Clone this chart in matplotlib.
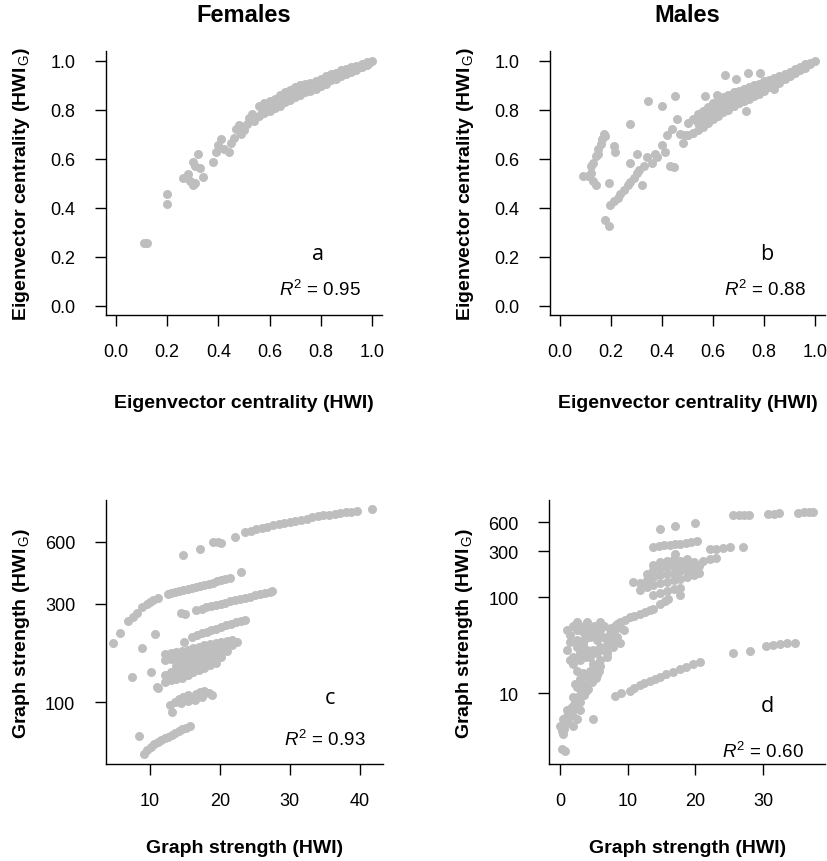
import numpy as np
import matplotlib
matplotlib.use("Agg")
import matplotlib.pyplot as plt

plt.rcParams['font.family'] = ['Liberation Sans', 'DejaVu Sans']
plt.rcParams['mathtext.fontset'] = 'custom'
plt.rcParams['mathtext.rm'] = 'Liberation Sans'
plt.rcParams['mathtext.it'] = 'Liberation Sans:italic'

# --- a: females, eigenvector centrality (HWI) vs (HWI_G)
fem_eig_x = [0.11, 0.12, 0.20, 0.20, 0.26, 0.28, 0.29, 0.30, 0.31, 0.30, 0.31, 0.32, 0.33, 0.34,
             0.38, 0.39, 0.40, 0.41, 0.42, 0.44, 0.45, 0.46, 0.47, 0.48, 0.49, 0.50, 0.51, 0.52, 0.53, 0.54,
             0.56, 0.56, 0.58, 0.58, 0.60, 0.60, 0.62, 0.62, 0.64, 0.64, 0.66, 0.66, 0.68, 0.68,
             0.70, 0.70, 0.72, 0.72, 0.74, 0.74, 0.76, 0.76, 0.78, 0.78, 0.80, 0.80, 0.82, 0.82,
             0.84, 0.84, 0.86, 0.86, 0.88, 0.88, 0.90, 0.90, 0.92, 0.92, 0.94, 0.94, 0.96, 0.96,
             0.98, 0.98, 1.00,
             0.57, 0.59, 0.61, 0.63, 0.65, 0.67, 0.69, 0.71, 0.73, 0.75, 0.77, 0.79, 0.81, 0.83,
             0.85, 0.87, 0.89, 0.91, 0.93, 0.95, 0.97, 0.99]
fem_eig_y = [0.255, 0.255, 0.455, 0.415, 0.52, 0.535, 0.51, 0.49, 0.50, 0.585, 0.57, 0.62, 0.56, 0.525,
             0.585, 0.625, 0.655, 0.68, 0.64, 0.625, 0.665, 0.685, 0.72, 0.735, 0.70, 0.715, 0.74, 0.765, 0.78, 0.755,
             0.815, 0.775, 0.825, 0.785, 0.835, 0.795, 0.845, 0.805, 0.86, 0.815, 0.87, 0.83, 0.88, 0.84,
             0.89, 0.85, 0.90, 0.86, 0.905, 0.87, 0.91, 0.875, 0.915, 0.885, 0.925, 0.895, 0.935, 0.905,
             0.945, 0.92, 0.95, 0.925, 0.96, 0.935, 0.965, 0.945, 0.972, 0.955, 0.978, 0.962, 0.987, 0.972,
             0.992, 0.983, 1.0,
             0.80, 0.805, 0.815, 0.825, 0.838, 0.85, 0.86, 0.87, 0.88, 0.888, 0.895, 0.905, 0.915, 0.925,
             0.935, 0.943, 0.952, 0.96, 0.967, 0.975, 0.982, 0.99]

# --- b: males, eigenvector centrality
male_eig_x = [0.09, 0.11, 0.12, 0.13, 0.14, 0.12, 0.13, 0.14, 0.15, 0.15, 0.16, 0.165, 0.17, 0.175,
              0.19, 0.21, 0.215, 0.175, 0.19,
              0.195, 0.21, 0.225, 0.235, 0.25, 0.265, 0.275, 0.29, 0.30, 0.31, 0.32, 0.33,
              0.275, 0.30, 0.34, 0.275, 0.345, 0.40, 0.45, 0.38, 0.40, 0.41, 0.43, 0.445,
              0.42, 0.44, 0.46, 0.48, 0.49,
              0.50, 0.50, 0.52, 0.52, 0.54, 0.54, 0.54, 0.56, 0.56, 0.56, 0.58, 0.58, 0.58,
              0.60, 0.60, 0.60, 0.62, 0.62, 0.62, 0.64, 0.64, 0.64, 0.66, 0.66, 0.66,
              0.68, 0.68, 0.68, 0.70, 0.70, 0.70, 0.72, 0.72, 0.72, 0.74, 0.74, 0.74,
              0.76, 0.76, 0.76, 0.78, 0.78, 0.78, 0.80, 0.80, 0.80, 0.82, 0.82, 0.84, 0.84,
              0.86, 0.86, 0.88, 0.88, 0.90, 0.90, 0.92, 0.92, 0.94, 0.94, 0.96, 0.96, 0.98, 0.98, 1.00,
              0.57, 0.615, 0.69, 0.735, 0.785, 0.645, 0.73, 0.84, 0.36, 0.37, 0.47]
male_eig_y = [0.53, 0.53, 0.54, 0.51, 0.49, 0.57, 0.58, 0.61, 0.62, 0.64, 0.66, 0.68, 0.70, 0.69,
              0.50, 0.65, 0.625, 0.35, 0.325,
              0.41, 0.425, 0.44, 0.455, 0.47, 0.49, 0.505, 0.52, 0.54, 0.555, 0.49, 0.57,
              0.58, 0.62, 0.605, 0.74, 0.835, 0.815, 0.855, 0.605, 0.655, 0.625, 0.57, 0.565,
              0.695, 0.72, 0.76, 0.665, 0.695,
              0.745, 0.695, 0.76, 0.705, 0.78, 0.745, 0.715, 0.795, 0.76, 0.73, 0.81, 0.775, 0.745,
              0.825, 0.79, 0.76, 0.84, 0.805, 0.775, 0.85, 0.82, 0.79, 0.86, 0.83, 0.80,
              0.87, 0.84, 0.815, 0.875, 0.85, 0.825, 0.885, 0.86, 0.835, 0.89, 0.865, 0.845,
              0.90, 0.875, 0.855, 0.905, 0.885, 0.865, 0.915, 0.895, 0.875, 0.92, 0.89, 0.93, 0.90,
              0.935, 0.91, 0.945, 0.925, 0.955, 0.935, 0.965, 0.95, 0.975, 0.96, 0.985, 0.97, 0.99, 0.985, 1.0,
              0.855, 0.86, 0.925, 0.95, 0.95, 0.94, 0.795, 0.885, 0.58, 0.62, 0.70]

# --- c: females, graph strength
fem_str_x = [14.8, 17.1, 19.0, 19.7, 20.2, 22.2, 23.6, 24.5, 25.2, 26.0, 26.8, 27.6, 28.4, 29.2, 30.0,
             30.8, 31.6, 32.4, 33.2, 34.0, 34.8, 35.6, 36.4, 37.2, 38.0, 38.8, 39.6, 41.7,
             4.8, 5.7, 6.9, 7.6, 8.2, 8.9, 9.6, 10.0, 10.5, 11.2,
             12.6, 13.0, 13.6, 14.2, 14.8, 15.4, 16.0, 16.6, 17.2, 17.8, 18.4, 19.0, 19.6, 20.2, 20.8, 21.4, 23.0,
             14.5, 15.0, 16.6, 17.4, 18.0, 18.7, 19.4, 20.1, 20.8, 21.5, 22.2, 22.9, 23.6, 24.3, 25.0, 25.7,
             26.4, 27.1, 27.5,
             14.9, 16.0, 16.7, 17.4, 18.1, 18.8, 19.5, 20.2, 20.9, 21.6, 22.3, 23.0, 23.6,
             10.7, 8.9, 10.2, 10.95, 7.4, 11.2,
             12.2, 12.2, 12.2, 12.2, 13.0, 13.0, 13.0, 13.0,
             13.8, 13.8, 13.8, 13.8, 13.8, 14.6, 14.6, 14.6, 14.6, 14.6, 15.4, 15.4, 15.4, 15.4, 15.4,
             16.2, 16.2, 16.2, 16.2, 16.2, 17.0, 17.0, 17.0, 17.0, 17.0, 17.8, 17.8, 17.8, 17.8, 17.8,
             18.6, 18.6, 18.6, 18.6, 18.6, 19.4, 19.4, 19.4, 19.4, 19.4, 20.2, 20.2, 20.2, 20.2,
             21.0, 21.0, 21.0, 21.8, 21.8, 22.4,
             12.9, 13.2, 13.6, 14.2, 14.8, 15.4, 16.0, 16.6, 17.2, 17.8, 18.4, 18.9, 14.5, 15.5, 16.5, 17.5,
             9.2, 9.6, 10.1, 10.6, 11.1, 11.6, 12.1, 12.6, 13.1, 13.6, 14.1, 14.6, 15.1, 15.7, 8.4]
fem_str_y = [519, 552, 600, 598, 590, 637, 673, 680, 690, 700, 712, 722, 732, 740, 750,
             760, 768, 778, 790, 798, 806, 814, 820, 828, 835, 842, 846, 869,
             193, 218, 247, 258, 270, 291, 300, 308, 315, 322,
             335, 340, 343, 346, 350, 354, 358, 362, 367, 372, 376, 381, 386, 391, 396, 402, 430,
             270, 268, 280, 285, 290, 292, 296, 300, 304, 309, 313, 318, 321, 326, 330, 335,
             339, 343, 347,
             197, 208, 212, 216, 220, 224, 228, 232, 236, 240, 244, 248, 251,
             214, 183, 141, 119, 133, 118,
             172, 160, 135, 125, 174, 162, 140, 128,
             176, 165, 150, 138, 130, 178, 168, 155, 142, 132, 180, 170, 158, 146, 136,
             183, 172, 161, 150, 140, 186, 175, 164, 153, 143, 189, 178, 167, 156, 147,
             191, 181, 170, 160, 151, 194, 184, 173, 163, 155, 196, 186, 176, 166,
             198, 188, 178, 200, 190, 197,
             97, 90, 100, 104, 106, 108, 104, 110, 112, 114, 111, 108, 99, 101, 103, 106,
             56, 59, 61, 63, 64.5, 66, 67, 68, 69.5, 71, 72.5, 74, 75.5, 77, 69]

# --- d: males, graph strength
male_str_x = [25.6, 26.4, 27.2, 28.0, 30.8, 31.6, 32.4, 35.2, 36.0, 36.8, 37.4,
              14.8, 17.0, 19.9,
              13.8, 14.6, 15.4, 16.2, 17.0, 17.8, 18.6, 19.4, 20.2, 17.0,
              22.1, 23.1, 24.1, 25.1, 27.1, 21.2, 22.1, 23.1,
              10.8, 11.8, 11.8, 12.8, 12.8, 12.8, 13.8, 13.8, 13.8, 13.8, 13.8,
              14.8, 14.8, 14.8, 14.8, 14.8, 15.8, 15.8, 15.8, 15.8, 15.8,
              16.8, 16.8, 16.8, 16.8, 16.8, 17.8, 17.8, 17.8, 17.8, 17.8, 17.8,
              18.8, 18.8, 18.8, 18.8, 19.8, 19.8, 19.8, 20.6, 20.6,
              7.4, 8.2, 8.9, 9.6, 10.3, 11.0, 11.8, 12.6, 13.3, 13.8, 14.8, 15.5, 16.0,
              2.0, 2.95, 1.5, 2.5, 3.4, 4.4, 5.4, 6.4, 7.4, 8.4, 8.9, 4.9, 5.9, 6.9, 7.9,
              2.0, 2.95, 3.9, 4.9, 5.9, 6.9, 2.5, 3.4, 4.4, 5.4, 2.5, 3.4, 4.4,
              2.0, 3.0, 3.9, 1.0, 2.0, 3.0, 0.5, 1.5, 2.5, 0.0, 1.0, 2.0, 0.5, 0.25, 0.7, 4.9,
              0.3, 0.6, 0.8, 1.2, 1.2, 1.6, 1.8, 2.2, 2.4, 2.7, 3.0, 3.3, 3.6, 3.6, 4.0, 4.2,
              4.5, 4.8, 5.0, 5.2, 5.5, 5.8, 6.0, 3.0, 3.8, 2.2,
              1.5, 2.5, 2.5, 3.5, 3.5, 4.5, 5.0, 5.5, 6.0, 6.5, 7.0, 7.5, 8.0, 8.5, 9.0,
              1.0, 1.5, 2.0, 3.0, 4.0, 4.5, 5.5, 6.5, 7.0, 7.5, 8.0, 2.5, 3.5, 1.0, 4.0, 6.0, 9.5,
              8.1, 9.0, 10.3, 11.0, 11.8, 12.5, 13.3, 14.0, 14.8, 15.7, 16.7, 17.7, 18.7, 19.7, 20.7,
              25.6, 28.1, 30.5, 31.5, 32.5, 33.5, 34.7]
male_str_y = [713, 716, 720, 725, 738, 742, 745, 758, 762, 770, 776,
              517, 548, 587,
              335, 340, 345, 350, 355, 360, 365, 372, 380, 283,
              315, 320, 326, 330, 335, 240, 248, 255,
              145, 118, 140, 128, 150, 175, 105, 135, 160, 190, 215,
              110, 140, 170, 200, 230, 115, 145, 175, 205, 240,
              120, 150, 180, 210, 250, 105, 125, 155, 185, 215, 240,
              160, 190, 220, 250, 170, 200, 230, 180, 210,
              46.7, 50, 55, 58, 62, 64, 67, 70, 73, 75, 85, 90, 95,
              50, 45, 34, 30, 32, 38, 41, 38, 41, 38, 33, 28, 30, 32, 30,
              24, 22, 24, 20, 22, 24, 17, 16, 17, 14.5, 11.5, 12.5, 13.5,
              9, 9.5, 10.5, 6.6, 7.3, 6.6, 5.3, 5.8, 5.3, 4.5, 4.9, 4.5, 3.7, 2.6, 2.5, 5.3,
              4.0, 4.2, 5.5, 5.0, 6.2, 7.0, 6.0, 8.0, 7.0, 9.0, 8.0, 10.5, 11.5, 9.5, 12.5, 11.0,
              14.5, 13.0, 16.0, 18.0, 15.5, 17.0, 19.0, 14.0, 15.5, 12.5,
              40, 45, 55, 50, 42, 46, 50, 36, 45, 50, 36, 48, 44, 52, 48,
              28, 22, 20, 26, 28, 24, 26, 28, 26, 35, 36, 36, 36, 45, 55, 55, 45,
              9.4, 10, 10.6, 11.3, 12.1, 12.8, 13.5, 14.1, 14.7, 15.6, 16.6, 17.7, 18.8, 20, 21.2,
              26.2, 27.6, 30.9, 31.5, 32.2, 33, 33.5]

panel_letters = ['a', 'b', 'c', 'd']
r2_labels = ['0.95', '0.88', '0.93', '0.60']
col_titles = ['Females', 'Males']

dot_color = '#bebebe'

fig = plt.figure(figsize=(8.27, 8.62), dpi=100)
ax_a = fig.add_axes([0.128, 0.633, 0.334, 0.307])
ax_b = fig.add_axes([0.665, 0.633, 0.333, 0.307])
ax_c = fig.add_axes([0.128, 0.112, 0.335, 0.3065])
ax_d = fig.add_axes([0.664, 0.112, 0.334, 0.3065])
axes = [ax_a, ax_b, ax_c, ax_d]

ax_a.scatter(fem_eig_x, fem_eig_y, s=42, color=dot_color, linewidths=0)
ax_b.scatter(male_eig_x, male_eig_y, s=42, color=dot_color, linewidths=0)
ax_c.scatter(fem_str_x, fem_str_y, s=42, color=dot_color, linewidths=0)
ax_d.scatter(male_str_x, male_str_y, s=42, color=dot_color, linewidths=0)

eig_ticks = [0.0, 0.2, 0.4, 0.6, 0.8, 1.0]
for ax in (ax_a, ax_b):
    ax.set_xlim(-0.04, 1.04)
    ax.set_ylim(-0.04, 1.04)
    ax.set_xticks(eig_ticks)
    ax.set_yticks(eig_ticks)
    ax.set_xticklabels(['%.1f' % t for t in eig_ticks])
    ax.set_yticklabels(['%.1f' % t for t in eig_ticks])
    ax.set_xlabel('Eigenvector centrality (HWI)', fontweight='bold', fontsize=14, va='center')
    ax.set_ylabel(r'Eigenvector centrality (HWI$_{\,\mathrm{G}}$)', fontweight='bold', fontsize=14, va='center')
    ax.xaxis.set_label_coords(0.5, -0.33)
    ax.yaxis.set_label_coords(-0.305, 0.5)

ax_c.set_yscale('log')
ax_c.set_xlim(3.71, 43.3)
ax_c.set_ylim(50, 955)
ax_c.set_xticks([10, 20, 30, 40])
ax_c.set_yticks([100, 300, 600])
ax_c.set_yticklabels(['100', '300', '600'])

ax_d.set_yscale('log')
ax_d.set_xlim(-1.58, 39.2)
ax_d.set_ylim(1.8, 1021)
ax_d.set_xticks([0, 10, 20, 30])
ax_d.set_yticks([10, 100, 300, 600])
ax_d.set_yticklabels(['10', '100', '300', '600'])

for ax in (ax_c, ax_d):
    ax.yaxis.set_minor_locator(matplotlib.ticker.NullLocator())
    ax.set_xlabel('Graph strength (HWI)', fontweight='bold', fontsize=14, va='center')
    ax.set_ylabel(r'Graph strength (HWI$_{\,\mathrm{G}}$)', fontweight='bold', fontsize=14, va='center')
    ax.xaxis.set_label_coords(0.5, -0.315)
    ax.yaxis.set_label_coords(-0.305, 0.5)

letter_pos = [(0.768, 0.233), (0.788, 0.233), (0.81, 0.255), (0.789, 0.222)]
r2_pos = [(0.775, 0.10), (0.782, 0.10), (0.79, 0.098), (0.775, 0.052)]
for ax, let, r2, lp, rp in zip(axes, panel_letters, r2_labels, letter_pos, r2_pos):
    for side in ('top', 'right'):
        ax.spines[side].set_visible(False)
    for side in ('left', 'bottom'):
        ax.spines[side].set_linewidth(1.0)
    ax.tick_params(direction='out', length=8, width=1, labelsize=13, pad=14)
    ax.tick_params(axis='x', pad=12)
    ax.text(lp[0], lp[1], let, transform=ax.transAxes, ha='center', va='center',
            fontsize=15.5, family='Open Sans')
    ax.text(rp[0], rp[1], r'$R^2$ = ' + r2, transform=ax.transAxes, ha='center', va='center',
            fontsize=13.5)

fig.text(244 / 827, 1 - 15 / 862, col_titles[0], ha='center', va='center', fontsize=17, fontweight='bold')
fig.text(687 / 827, 1 - 15 / 862, col_titles[1], ha='center', va='center', fontsize=17, fontweight='bold')

fig.savefig('out.png', dpi=100)
